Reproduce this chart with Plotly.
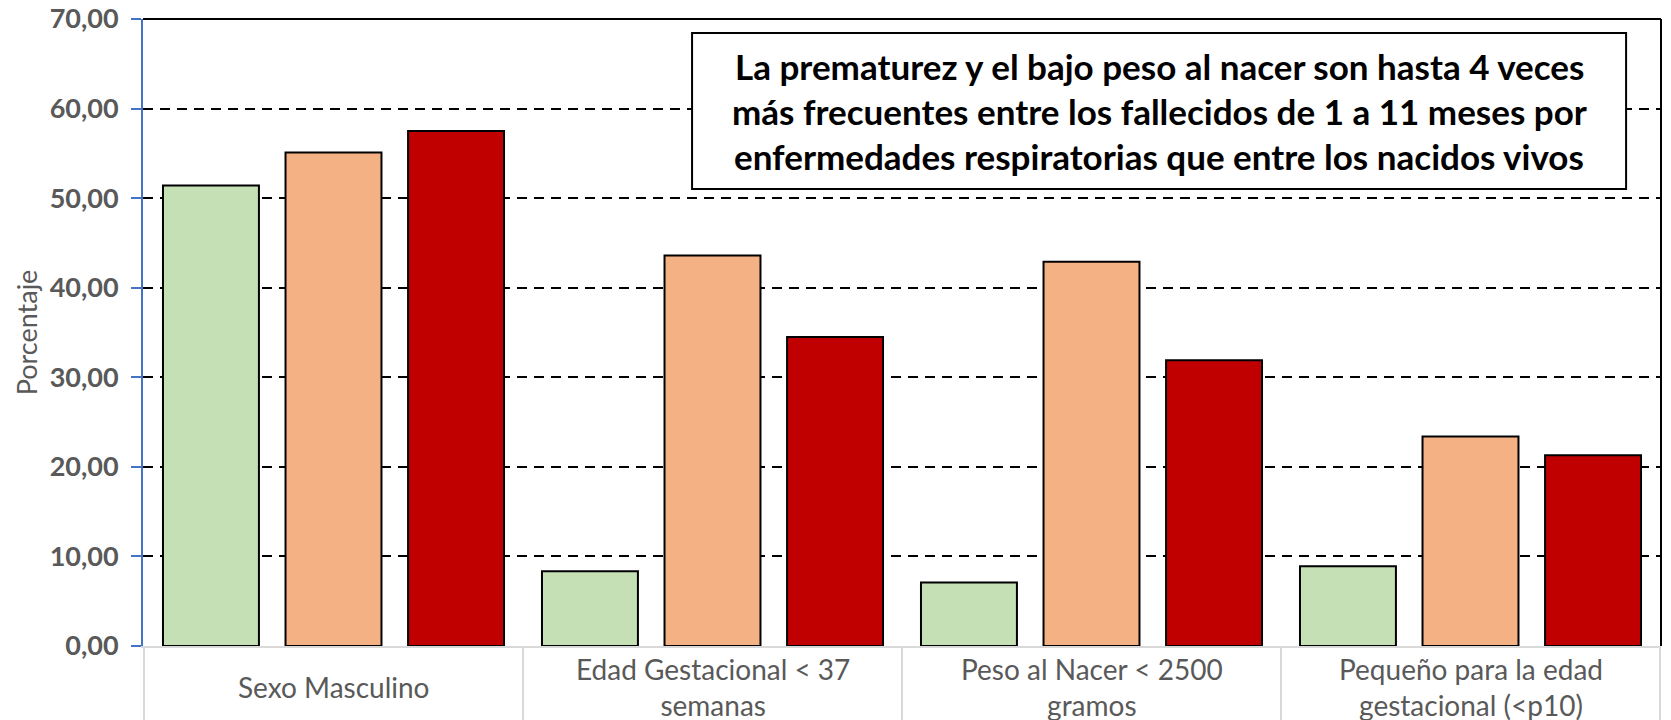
import plotly.graph_objects as go

categories = ["Sexo Masculino", "Edad Gestacional < 37 semanas",
              "Peso al Nacer < 2500 gramos", "Pequeño para la edad gestacional (<p10)"]
category_labels = ["Sexo Masculino", "Edad Gestacional &lt; 37<br>semanas",
                   "Peso al Nacer &lt; 2500<br>gramos", "Pequeño para la edad<br>gestacional (&lt;p10)"]
series_names = ["Nacidos vivos", "Fallecidos 1-11 meses", "Fallecidos 1-11 meses por enf. respiratorias"]
nacidos_vivos = [51.4, 8.35, 7.1, 8.9]
fallecidos = [55.1, 43.6, 42.9, 23.4]
fallecidos_resp = [57.5, 34.5, 31.9, 21.3]
series_values = [nacidos_vivos, fallecidos, fallecidos_resp]
series_colors = ["#C5E0B4", "#F4B183", "#C00000"]
y_title = "Porcentaje"
note_lines = ["La prematurez y el bajo peso al nacer son hasta 4 veces",
              "más frecuentes entre los fallecidos de 1 a 11 meses por",
              "enfermedades respiratorias que entre los nacidos vivos"]

FONT = "Lato"
GRAY = "#595959"

fig = go.Figure()
for name, vals, col in zip(series_names, series_values, series_colors):
    fig.add_trace(go.Bar(x=categories, y=vals, name=name, hoverinfo="skip",
                         marker=dict(color=col, line=dict(color="black", width=2))))

shapes = []
# outer frame top & right
shapes.append(dict(type="line", xref="paper", yref="paper", x0=0, x1=1, y0=1, y1=1,
                   line=dict(color="black", width=2), layer="above"))
shapes.append(dict(type="line", xref="paper", yref="paper", x0=1, x1=1, y0=0, y1=1,
                   line=dict(color="black", width=2), layer="above"))
# category box separators
for i in range(len(categories) + 1):
    shapes.append(dict(type="line", xref="x", yref="paper", x0=i - 0.5, x1=i - 0.5,
                       y0=0, y1=-0.2, line=dict(color="#D9D9D9", width=2), layer="above"))
# note box
BOX_X0, BOX_X1 = 0.3617, 0.977
shapes.append(dict(type="rect", xref="paper", yref="paper", x0=BOX_X0, x1=BOX_X1,
                   y0=0.7289, y1=0.9777, fillcolor="white",
                   line=dict(color="black", width=2), layer="above"))

annotations = []
for cat, lab in zip(categories, category_labels):
    annotations.append(dict(x=cat, xref="x", y=-0.0654, yref="paper", text=lab,
                            showarrow=False, yanchor="middle", xanchor="center",
                            font=dict(family=FONT, size=28, color=GRAY)))
for yy, line in zip([0.925, 0.853, 0.7815], note_lines):
    annotations.append(dict(x=(BOX_X0 + BOX_X1) / 2, xref="paper", y=yy, yref="paper", text=line,
                            showarrow=False, xanchor="center", yanchor="middle",
                            font=dict(family=FONT, size=35, color="black", weight="bold")))

fig.update_layout(
    width=1671, height=720,
    margin=dict(l=143, r=10, t=19, b=74),
    paper_bgcolor="white", plot_bgcolor="white",
    barmode="group", bargap=0.03, bargroupgap=0.217,
    showlegend=False,
    separators=",.",
    hovermode=False,
    shapes=shapes, annotations=annotations,
    xaxis=dict(showticklabels=False, showline=True, linecolor="#D9D9D9", linewidth=2,
               ticks="", showgrid=False, zeroline=False, automargin=False),
    yaxis=dict(range=[0, 70], dtick=10, tickformat=".2f", automargin=False,
               showline=True, linecolor="#4472C4", linewidth=2,
               ticks="outside", tickcolor="#4472C4", ticklen=10, tickwidth=2,
               ticklabelstandoff=7,
               showgrid=True, gridcolor="black", gridwidth=2, griddash="10px,7px",
               zeroline=False,
               tickfont=dict(family=FONT, size=27, color=GRAY, weight="bold"),
               title=dict(text=y_title, standoff=4,
                          font=dict(family=FONT, size=27, color=GRAY))),
)
fig.write_html("out.html", config={"displayModeBar": False},
               post_script="document.body.style.margin='0px';")
